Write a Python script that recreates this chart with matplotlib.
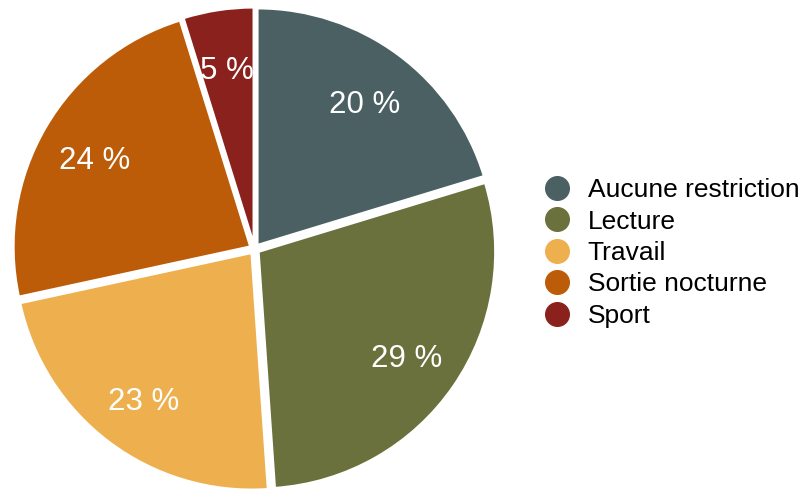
import numpy as np
import matplotlib.pyplot as plt
from matplotlib.lines import Line2D

categories = ['Aucune restriction', 'Lecture', 'Travail', 'Sortie nocturne', 'Sport']
shares = [20.3, 28.6, 22.7, 23.6, 4.8]
pct_labels = ['20 %', '29 %', '23 %', '24 %', '5 %']
colors = ['#4a6063', '#6b713c', '#eeb04e', '#bc5b08', '#8b211d']

plt.rcParams['font.family'] = ['Liberation Sans', 'DejaVu Sans']

fig = plt.figure(figsize=(8.08, 4.90), dpi=100)

# pie placed in pixel terms: centre (254.5, 249 from top), radius ~237 px
R = 237
cx, cy = 254.5, 490 - 249
half = 1.1 * R
ax = fig.add_axes([(cx - half) / 808, (cy - half) / 490, 2 * half / 808, 2 * half / 490])
wedges, texts = ax.pie(shares, colors=colors, startangle=90, counterclock=False,
                       explode=[0.02] * len(shares),
                       wedgeprops=dict(edgecolor='white', linewidth=1.8))
ax.set_xlim(-1.1, 1.1)
ax.set_ylim(-1.1, 1.1)
ax.axis('off')

# percentage labels inside slices
angle = 90.0
total = sum(shares)
for val, lab in zip(shares, pct_labels):
    span = 360.0 * val / total
    mid = np.deg2rad(angle - span / 2)
    ax.annotate(lab, (0.78 * np.cos(mid), 0.78 * np.sin(mid)), xytext=(0, -3.5),
                textcoords='offset points', color='white',
                fontsize=22.5, ha='center', va='center')
    angle -= span

handles = [Line2D([], [], marker='o', linestyle='none', markersize=17,
                  markerfacecolor=c, markeredgecolor=c) for c in colors]
fig.legend(handles, categories, loc='center left', bbox_to_anchor=(531 / 808, 1 - 253 / 490),
           frameon=False, fontsize=19, handletextpad=0.55, labelspacing=0.28,
           handlelength=1.2, borderaxespad=0)

fig.savefig('out.png', dpi=100)
